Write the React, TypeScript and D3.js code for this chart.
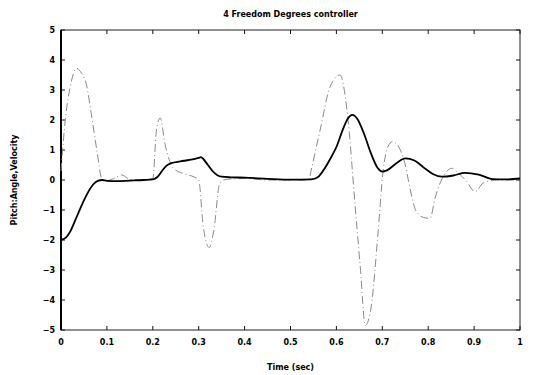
import React, { useRef, useEffect } from 'react';
import * as d3 from 'd3';

// pitch angle (solid) and pitch velocity (dash-dot)
const timeAngle = [0, 0.01, 0.02, 0.03, 0.04, 0.05, 0.06, 0.07, 0.08, 0.09, 0.10, 0.12, 0.15, 0.18, 0.20, 0.21, 0.22, 0.23, 0.24, 0.26, 0.28, 0.30, 0.305, 0.31, 0.32, 0.33, 0.34, 0.35, 0.37, 0.40, 0.45, 0.50, 0.545, 0.56, 0.575, 0.59, 0.60, 0.615, 0.625, 0.635, 0.645, 0.66, 0.675, 0.69, 0.70, 0.71, 0.73, 0.75, 0.77, 0.79, 0.81, 0.83, 0.855, 0.88, 0.91, 0.94, 0.97, 1.0];
const angle     = [-2.0, -1.93, -1.72, -1.38, -1.02, -0.68, -0.38, -0.15, -0.03, 0, -0.03, -0.04, -0.02, 0, 0.02, 0.1, 0.3, 0.48, 0.56, 0.62, 0.67, 0.74, 0.76, 0.7, 0.5, 0.3, 0.17, 0.11, 0.09, 0.08, 0.04, 0.01, 0.02, 0.1, 0.4, 0.8, 1.1, 1.72, 2.05, 2.17, 2.05, 1.55, 0.9, 0.4, 0.28, 0.32, 0.55, 0.72, 0.65, 0.42, 0.2, 0.11, 0.15, 0.24, 0.18, 0.03, 0.02, 0.05];

const timeVel = [0, 0.01, 0.02, 0.034, 0.045, 0.055, 0.067, 0.078, 0.089, 0.1, 0.115, 0.132, 0.15, 0.18, 0.2, 0.208, 0.216, 0.227, 0.245, 0.27, 0.29, 0.3, 0.31, 0.323, 0.333, 0.346, 0.36, 0.4, 0.45, 0.5, 0.54, 0.545, 0.565, 0.586, 0.608, 0.624, 0.641, 0.652, 0.663, 0.676, 0.69, 0.702, 0.712, 0.722, 0.736, 0.75, 0.761, 0.774, 0.79, 0.804, 0.815, 0.826, 0.84, 0.851, 0.868, 0.884, 0.902, 0.92, 0.95, 1.0];
const velocity = [0.3, 2.1, 3.1, 3.72, 3.55, 3.2, 2.1, 1.0, 0.05, -0.02, 0.05, 0.17, 0.02, 0, 0.05, 1.67, 2.07, 1.17, 0.39, 0.2, 0.1, 0, -1.56, -2.25, -1.67, -0.1, 0.02, 0.05, 0, 0, 0, 0.33, 1.7, 3.1, 3.5, 2.2, -0.9, -2.9, -4.85, -4.2, -1.9, 0.33, 1.1, 1.28, 1.1, 0.5, -0.33, -1.05, -1.25, -1.28, -0.6, -0.1, 0.28, 0.39, 0.2, -0.05, -0.39, -0.1, 0, 0];

const xTicks = [0, 0.1, 0.2, 0.3, 0.4, 0.5, 0.6, 0.7, 0.8, 0.9, 1];
const xTickLabels = ['0', '0.1', '0.2', '0.3', '0.4', '0.5', '0.6', '0.7', '0.8', '0.9', '1'];
const yTicks = [-5, -4, -3, -2, -1, 0, 1, 2, 3, 4, 5];

const W = 538, H = 375;
const M = { left: 61, right: 18, top: 30, bottom: 45 };
const FONT = '"DejaVu Sans", "Liberation Sans", sans-serif';

const App = () => {
    const svgRef = useRef<SVGSVGElement>(null);

    useEffect(() => {
        if (!svgRef.current) return;
        const svg = d3.select(svgRef.current);
        svg.selectAll('*').remove();

        const x = d3.scaleLinear().domain([0, 1]).range([M.left, W - M.right]);
        const y = d3.scaleLinear().domain([-5, 5]).range([H - M.bottom, M.top]);
        const [x0, x1] = x.range();
        const [y0, y1] = y.range();

        // ticks on all four sides, pointing in
        const tk = 4;
        const g = svg.append('g').attr('stroke', '#111').attr('stroke-width', 1);
        xTicks.forEach(t => {
            g.append('line').attr('x1', x(t)).attr('x2', x(t)).attr('y1', y0).attr('y2', y0 - tk);
            g.append('line').attr('x1', x(t)).attr('x2', x(t)).attr('y1', y1).attr('y2', y1 + tk);
        });
        yTicks.forEach(t => {
            g.append('line').attr('x1', x0).attr('x2', x0 + tk).attr('y1', y(t)).attr('y2', y(t));
            g.append('line').attr('x1', x1).attr('x2', x1 - tk).attr('y1', y(t)).attr('y2', y(t));
        });

        // frame
        svg.append('rect')
            .attr('x', x0).attr('y', y1).attr('width', x1 - x0).attr('height', y0 - y1)
            .attr('fill', 'none').attr('stroke', '#222').attr('stroke-width', 1);
        svg.append('line').attr('x1', x0).attr('x2', x0).attr('y1', y1).attr('y2', y0)
            .attr('stroke', '#000').attr('stroke-width', 2);

        const line = d3.line<[number, number]>()
            .x(d => x(d[0])).y(d => y(d[1]))
            .curve(d3.curveMonotoneX);

        // velocity, thin dash-dot
        svg.append('path')
            .attr('d', line(timeVel.map((t, i) => [t, velocity[i]] as [number, number])))
            .attr('fill', 'none').attr('stroke', '#8a8a8a').attr('stroke-width', 1)
            .attr('stroke-dasharray', '8,3,1,3');

        // angle, heavy solid
        svg.append('path')
            .attr('d', line(timeAngle.map((t, i) => [t, angle[i]] as [number, number])))
            .attr('fill', 'none').attr('stroke', '#000').attr('stroke-width', 1.8);

        // tick labels
        xTicks.forEach((t, i) => {
            svg.append('text')
                .attr('x', x(t)).attr('y', y0 + 15)
                .attr('text-anchor', 'middle')
                .attr('font-family', FONT).attr('font-size', 8).attr('font-weight', 700)
                .text(xTickLabels[i]);
        });
        yTicks.forEach(t => {
            svg.append('text')
                .attr('x', x0 - 6).attr('y', y(t) + 3)
                .attr('text-anchor', 'end')
                .attr('font-family', FONT).attr('font-size', 8).attr('font-weight', 700)
                .text(t < 0 ? `\u2212${-t}` : `${t}`);
        });

        // titles
        svg.append('text')
            .attr('x', (x0 + x1) / 2).attr('y', 17)
            .attr('text-anchor', 'middle')
            .attr('font-family', FONT).attr('font-size', 8).attr('font-weight', 700)
            .text('4 Freedom Degrees controller');
        svg.append('text')
            .attr('x', (x0 + x1) / 2).attr('y', 370)
            .attr('text-anchor', 'middle')
            .attr('font-family', FONT).attr('font-size', 8).attr('font-weight', 700)
            .text('Time (sec)');
        svg.append('text')
            .attr('transform', `translate(17,${(y0 + y1) / 2}) rotate(-90)`)
            .attr('text-anchor', 'middle')
            .attr('font-family', FONT).attr('font-size', 8).attr('font-weight', 700)
            .text('Pitch:Angle,Velocity');
    }, []);

    return (
        <svg
            ref={svgRef}
            width={W}
            height={H}
            style={{ position: 'absolute', left: 0, top: 0, background: '#fff' }}
        />
    );
};

export default App;
